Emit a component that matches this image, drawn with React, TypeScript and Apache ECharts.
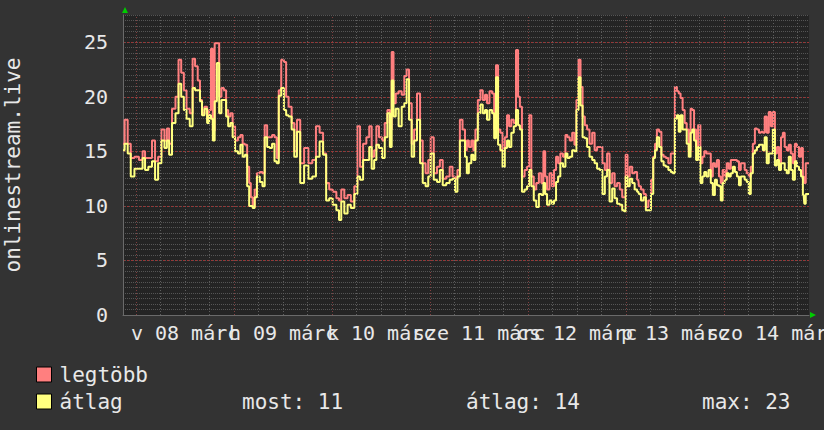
import React, { useEffect, useRef } from "react";
import * as echarts from "echarts";

// hours relative to 08 March 00:00
const X_MIN = -3.2;
const X_MAX = 164.8;
const Y_MAX = 27.5;

const HOURS = [
  -3.2, -2.4, -1.7, -0.9, 0.1, 1.3, 1.9, 2.5, 3.5, 4.3, 5.0, 5.8, 6.6, 7.3, 7.8, 8.4, 9.2, 10.1, 10.7, 11.4,
  12.0, 12.7, 13.6, 14.1, 14.8, 15.4, 15.9, 16.4, 17.1, 17.7, 18.1, 18.6, 19.0, 19.5, 20.1, 20.6, 21.2, 21.8, 22.3, 22.8,
  23.4, 23.9, 24.6, 25.3, 25.8, 26.4, 26.9, 27.5, 27.9, 28.3, 28.8, 29.3, 29.9, 30.7, 31.2, 31.8, 32.4, 33.0, 33.6, 34.2,
  34.7, 35.2, 35.9, 36.5, 37.0, 37.7, 38.5,
  39.0, 39.8, 40.6, 41.7, 42.7, 43.6, 44.5, 45.4, 46.2, 46.9, 47.7, 48.6, 49.5, 49.9, 50.6, 51.4, 52.2, 53.0, 53.9, 54.5,
  55.2, 56.0, 56.8, 57.4, 58.0, 58.6, 59.1, 59.9, 60.6, 61.2, 61.9, 62.4, 62.8, 63.3, 63.9, 64.7, 65.4, 66.0, 66.5, 67.2,
  67.8, 68.4, 69.2, 69.9, 70.5, 71.3, 71.8, 72.5, 73.3, 74.1, 74.7, 75.5, 76.4, 77.2, 77.8, 78.4, 79.0, 79.6, 80.3, 80.8,
  81.2, 81.8, 82.4, 82.8, 83.4, 84.0, 84.6, 85.2, 85.7, 86.2, 86.9, 87.5, 87.9, 88.4, 88.9, 89.5, 90.0, 90.6, 91.1, 91.6,
  92.2, 92.8, 93.3, 93.8, 94.2, 94.8, 95.5, 96.0, 96.5, 97.1, 97.7, 98.3, 99.0, 99.5, 100.0, 100.4, 100.9, 101.6, 102.1, 102.6,
  103.1, 103.6, 104.2, 104.9, 105.4, 105.9, 106.5, 107.1, 107.6, 108.1, 108.6, 109.1, 109.6, 110.2, 110.7, 111.4, 112.0, 112.6, 113.2, 113.9,
  114.5, 115.1, 115.6, 116.3, 116.9, 117.5, 118.1, 118.8, 119.3, 119.7, 120.1, 120.6, 121.2, 121.8, 122.4, 123.0,
  123.3, 124.0, 124.6, 125.1, 125.8, 126.4, 126.9, 127.3, 127.8, 128.4, 128.9, 129.5, 130.0, 130.7, 131.2, 131.7, 132.2, 132.7, 133.1, 133.6,
  134.1, 134.6, 135.1, 135.6, 136.0, 136.4, 136.9, 137.4, 137.9, 138.5, 138.9, 139.4, 139.9, 140.5, 141.0, 141.5, 142.0, 142.5, 143.0, 143.4,
  143.9, 144.4, 144.9, 145.4, 145.9, 146.4, 146.9, 147.4, 147.9, 148.3, 148.8, 149.3, 149.8, 150.3, 150.8, 151.3, 151.8, 152.3, 152.8, 153.3,
  153.7, 154.2, 154.7, 155.2, 155.7, 156.2, 156.7, 157.2, 157.7, 158.2, 158.6, 159.1, 159.6, 160.1, 160.6, 161.1, 161.6, 162.1, 162.6, 163.1,
  163.5, 163.8, 164.2, 164.8,
];

const MAX_VALUES = [
  15.7, 17.9, 15.7, 14.4, 14.5, 14.2, 15.0, 14.4, 14.4, 16.0, 14.1, 14.5, 17.0, 16.0, 17.1, 15.7, 18.9, 20.0, 23.4, 22.2,
  20.6, 18.9, 18.5, 23.5, 22.8, 21.5, 19.7, 18.5, 19.1, 17.9, 18.8, 24.4, 16.9, 24.9, 24.9, 20.0, 20.8, 20.6, 18.8, 18.2,
  18.5, 17.3, 16.0, 16.3, 16.5, 15.7, 15.6, 13.6, 12.1, 10.8, 9.9, 11.5, 13.0, 13.1, 13.0, 17.4, 16.3, 16.3, 16.5, 16.3,
  14.4, 20.6, 23.4, 23.2, 20.0, 19.1, 17.6,
  15.0, 17.9, 13.9, 15.3, 13.9, 14.2, 17.3, 16.7, 14.8, 12.1, 11.5, 11.3, 10.7, 10.5, 11.5, 10.7, 11.0, 10.4, 11.8, 17.3,
  13.6, 15.7, 16.3, 17.3, 14.5, 15.1, 17.3, 16.3, 16.0, 17.6, 18.8, 17.0, 24.1, 19.4, 20.3, 20.5, 20.2, 21.9, 22.5, 19.4,
  15.7, 17.0, 20.3, 16.0, 13.9, 13.0, 14.2, 16.3, 13.0, 13.6, 14.2, 12.5, 12.7, 13.6, 12.7, 12.5, 13.3, 17.9, 17.0, 15.1,
  16.0, 15.4, 16.0, 15.1, 17.0, 19.7, 20.6, 19.7, 20.2, 19.4, 20.5, 20.3, 17.0, 22.9, 17.0, 16.7, 15.1, 16.3, 18.3, 17.3,
  17.9, 17.6, 24.3, 20.0, 19.1, 12.7, 13.3, 13.6, 18.3, 12.7, 11.5, 12.1, 13.0, 12.1, 15.0, 12.7, 11.5, 13.0, 11.8, 13.3,
  14.5, 13.9, 14.8, 14.5, 16.5, 16.3, 16.0, 16.7, 15.6, 19.7, 23.4, 20.9, 18.2, 17.4, 17.0, 15.7, 16.7, 15.1, 15.4, 15.4,
  13.9, 13.3, 14.8, 12.1, 13.0, 11.8, 12.1, 11.5, 10.8, 10.8, 14.7, 12.7, 13.6, 13.0, 13.1, 12.4,
  11.8, 11.5, 11.1, 9.9, 10.5, 12.4, 14.5, 15.7, 17.0, 16.8, 14.7, 14.5, 14.4, 13.9, 14.8, 14.8, 20.9, 20.5, 20.3, 19.9,
  18.8, 17.6, 17.0, 15.1, 18.9, 18.8, 17.0, 15.4, 17.4, 13.9, 14.5, 15.0, 14.8, 14.8, 12.7, 13.9, 13.6, 14.2, 12.7, 12.1,
  13.3, 12.7, 13.9, 13.4, 14.2, 14.2, 14.2, 14.1, 13.3, 13.9, 13.9, 13.3, 13.0, 12.7, 13.6, 15.7, 17.1, 17.0, 16.7, 16.8,
  16.7, 18.2, 16.7, 18.6, 17.3, 18.6, 14.8, 15.4, 13.9, 16.3, 16.7, 15.4, 15.1, 15.6, 14.8, 13.9, 15.7, 15.4, 14.5, 15.3,
  12.7, 12.1, 13.9, 13.9,
];

const AVG_VALUES = [
  15.1, 15.7, 14.8, 12.7, 13.4, 13.4, 14.4, 13.3, 13.6, 14.1, 12.4, 13.9, 16.0, 15.3, 16.0, 14.7, 17.6, 18.5, 21.2, 20.0,
  18.8, 18.0, 17.3, 20.8, 20.6, 20.6, 19.6, 18.3, 18.9, 17.6, 18.3, 18.0, 16.0, 19.6, 23.1, 18.5, 19.7, 19.7, 18.2, 17.3,
  17.6, 16.3, 15.0, 14.8, 15.6, 14.5, 14.7, 11.8, 10.0, 10.0, 9.8, 10.8, 12.7, 12.2, 11.8, 16.3, 15.4, 15.3, 15.7, 14.1,
  13.9, 20.1, 20.8, 18.8, 18.3, 18.2, 17.0,
  14.5, 16.8, 12.1, 13.7, 12.5, 12.7, 14.5, 15.9, 14.7, 10.5, 10.7, 10.1, 9.6, 8.7, 10.4, 9.3, 10.1, 9.8, 11.1, 12.7,
  12.4, 14.2, 14.2, 15.4, 13.4, 14.2, 15.6, 15.3, 14.4, 16.3, 18.5, 15.4, 21.5, 18.2, 18.9, 17.3, 19.1, 19.4, 21.6, 17.9,
  14.5, 16.0, 17.9, 13.9, 12.1, 11.8, 12.7, 14.8, 12.4, 12.2, 13.3, 11.9, 12.1, 12.4, 12.5, 11.3, 12.7, 16.0, 16.0, 14.5,
  13.0, 13.9, 14.7, 14.2, 16.0, 18.5, 19.3, 18.5, 18.8, 17.9, 18.8, 18.5, 16.2, 21.8, 15.6, 15.1, 13.6, 15.3, 16.0, 15.4,
  16.7, 17.3, 18.8, 17.4, 17.0, 11.3, 11.5, 11.8, 13.3, 11.8, 10.5, 9.9, 11.1, 11.0, 12.1, 11.1, 10.1, 10.5, 10.2, 10.5,
  12.2, 12.7, 13.9, 13.6, 14.8, 14.4, 14.5, 15.1, 15.0, 18.8, 21.8, 19.2, 16.3, 16.2, 15.4, 14.5, 14.2, 13.9, 13.4, 13.3,
  11.1, 12.7, 13.3, 10.4, 11.6, 10.7, 10.2, 10.1, 9.6, 9.5, 12.7, 11.8, 12.5, 12.1, 11.5, 11.3,
  11.1, 10.5, 10.8, 9.6, 9.6, 11.1, 14.4, 15.1, 16.3, 15.4, 14.1, 13.7, 13.6, 13.3, 13.1, 13.0, 18.0, 18.3, 16.8, 18.3,
  17.0, 17.0, 15.7, 14.5, 16.7, 17.0, 16.0, 14.2, 15.4, 12.1, 12.7, 13.1, 12.7, 13.3, 12.1, 11.0, 12.4, 11.9, 11.8, 10.5,
  12.1, 12.4, 13.0, 12.7, 13.0, 13.6, 13.1, 12.7, 11.9, 12.7, 12.7, 12.4, 12.2, 11.1, 13.0, 14.8, 15.1, 15.4, 15.6, 15.6,
  15.1, 16.3, 13.9, 14.8, 14.8, 17.0, 13.7, 14.2, 13.3, 13.9, 13.9, 13.3, 13.0, 14.5, 13.3, 12.4, 14.1, 13.6, 13.3, 12.7,
  11.0, 10.2, 11.1, 11.1,
];

const SERIES_NAMES = ["legtöbb", "átlag"];
const SERIES_COLORS = ["#FF7F7F", "#FFFF7F"];
const DAY_LABEL_HOURS = [12, 36, 60, 84, 108, 132, 156];
const DAY_LABELS = ["v 08 márc", "h 09 márc", "k 10 márc", "sze 11 márc", "cs 12 márc", "p 13 márc", "szo 14 márc"];
const GRID_HOURS = [0, 6, 12, 18, 24, 30, 36, 42, 48, 54, 60, 66, 72, 78, 84, 90, 96, 102, 108, 114, 120, 126, 132, 138, 144, 150, 156, 162];
const Y_TICKS = [0, 5, 10, 15, 20, 25];
const UNIT_LABEL = "onlinestream.live";
const STAT_NAMES = ["most", "átlag", "max"];
const STAT_VALUES = [11, 14, 23];

const FONT = '"DejaVu Sans Mono", monospace';
const TEXT_COLOR = "#e8e8e8";

export default function App() {
  const ref = useRef<HTMLDivElement>(null);
  useEffect(() => {
    if (!ref.current) return;
    const chart = echarts.init(ref.current, null, { renderer: "svg" });
    const maxData = HOURS.map((h, i) => [h, MAX_VALUES[i]]);
    const avgData = HOURS.map((h, i) => [h, AVG_VALUES[i]]);
    const statX = [242, 466, 702];
    // split the day labels over two axes so none is auto-hidden next to the min/max label
    const labelsA = DAY_LABEL_HOURS.filter((_, i) => i % 2 === 0 || i === 3);
    const labelsB = DAY_LABEL_HOURS.filter((_, i) => !(i % 2 === 0 || i === 3));
    const labelFmt = (v: number) => {
      const i = DAY_LABEL_HOURS.indexOf(Math.round(v));
      return i >= 0 ? DAY_LABELS[i] : "";
    };
    const labelStyle = {
      showMinLabel: true,
      showMaxLabel: true,
      hideOverlap: false,
      formatter: labelFmt,
      color: TEXT_COLOR,
      fontFamily: FONT,
      fontSize: 20,
      margin: 8,
    };
    const vGrid = GRID_HOURS.map((h) => ({
      xAxis: h,
      lineStyle: {
        color: h % 24 === 0 ? "#804040" : "#5e5e5e",
        type: [1, 2],
        width: 1,
      },
    }));
    chart.setOption({
      animation: false,
      backgroundColor: "#333333",
      grid: {
        left: 123,
        right: 15,
        top: 15,
        bottom: 115,
        show: true,
        backgroundColor: "#242424",
        borderWidth: 0,
        containLabel: false,
        outerBoundsMode: "none",
      },
      xAxis: [
        {
          type: "value",
          position: "bottom",
          min: X_MIN,
          max: X_MAX,
          axisLine: { show: true, onZero: false, lineStyle: { color: "#6a6a6a", width: 1 } },
          axisTick: { show: false },
          axisLabel: { ...labelStyle, customValues: labelsA },
          splitLine: { show: false },
        },
        {
          type: "value",
          position: "bottom",
          offset: 0,
          min: X_MIN,
          max: X_MAX,
          axisLine: { show: false, onZero: false },
          axisTick: { show: false },
          splitLine: { show: false },
          axisLabel: { ...labelStyle, customValues: labelsB },
        },
      ],
      yAxis: [
        {
          type: "value",
          position: "left",
          min: 0,
          max: Y_MAX,
          interval: 0.5,
          axisLabel: { show: false },
          axisLine: { show: false, onZero: false },
          axisTick: { show: false },
          splitLine: { show: true, lineStyle: { color: "#555555", type: [1, 1], width: 1 } },
        },
        {
          type: "value",
          position: "left",
          offset: 0,
          min: 0,
          max: Y_MAX,
          axisLine: { show: true, onZero: false, lineStyle: { color: "#6a6a6a", width: 1 } },
          axisTick: { show: false, customValues: Y_TICKS },
          axisLabel: {
            customValues: Y_TICKS,
            showMinLabel: true,
            showMaxLabel: true,
            color: TEXT_COLOR,
            fontFamily: FONT,
            fontSize: 20,
            margin: 15,
          },
          splitLine: { show: true, lineStyle: { color: "#9a3434", type: [2, 2], width: 1 } },
        },
      ],
      legend: {
        data: SERIES_NAMES,
        orient: "vertical",
        left: 31,
        top: 359,
        icon: "rect",
        itemWidth: 15,
        itemHeight: 15,
        itemGap: 6,
        selectedMode: false,
        itemStyle: { borderColor: "#000000", borderWidth: 1 },
        textStyle: { color: TEXT_COLOR, fontFamily: FONT, fontSize: 21, padding: [0, 0, 0, 3] },
      },
      series: [
        {
          type: "line",
          name: "grid",
          xAxisIndex: 0,
          yAxisIndex: 1,
          data: maxData,
          symbol: "none",
          showSymbol: false,
          silent: true,
          lineStyle: { opacity: 0 },
          z: 1,
          markLine: {
            silent: true,
            symbol: "none",
            label: { show: false },
            data: vGrid,
          },
        },
        ...SERIES_NAMES.map((name, idx) => ({
          type: "line",
          name,
          xAxisIndex: 0,
          yAxisIndex: 1,
          data: idx === 0 ? maxData : avgData,
          step: "middle",
          symbol: "none",
          showSymbol: false,
          color: SERIES_COLORS[idx],
          lineStyle: { color: SERIES_COLORS[idx], width: 2 },
          z: 3 + idx,
        })),
      ],
      graphic: [
        {
          type: "text",
          x: 13,
          y: 165,
          rotation: Math.PI / 2,
          style: {
            text: UNIT_LABEL,
            fill: TEXT_COLOR,
            font: `21px ${FONT}`,
            align: "center",
            verticalAlign: "middle",
          },
        },
        ...STAT_NAMES.map((n, i) => ({
          type: "text",
          x: statX[i],
          y: 402,
          style: {
            text: `${n}: ${STAT_VALUES[i]}`,
            fill: TEXT_COLOR,
            font: `21px ${FONT}`,
            align: "left",
            verticalAlign: "middle",
          },
        })),
        {
          type: "polygon",
          shape: { points: [[122, 13], [128, 13], [125, 7]] },
          style: { fill: "#00cc00" },
        },
        {
          type: "polygon",
          shape: { points: [[810, 312], [810, 318], [816, 315]] },
          style: { fill: "#00cc00" },
        },
      ],
    });
    return () => chart.dispose();
  }, []);
  return (
    <div
      ref={ref}
      style={{ position: "fixed", left: 0, top: 0, width: 824, height: 430 }}
    />
  );
}
